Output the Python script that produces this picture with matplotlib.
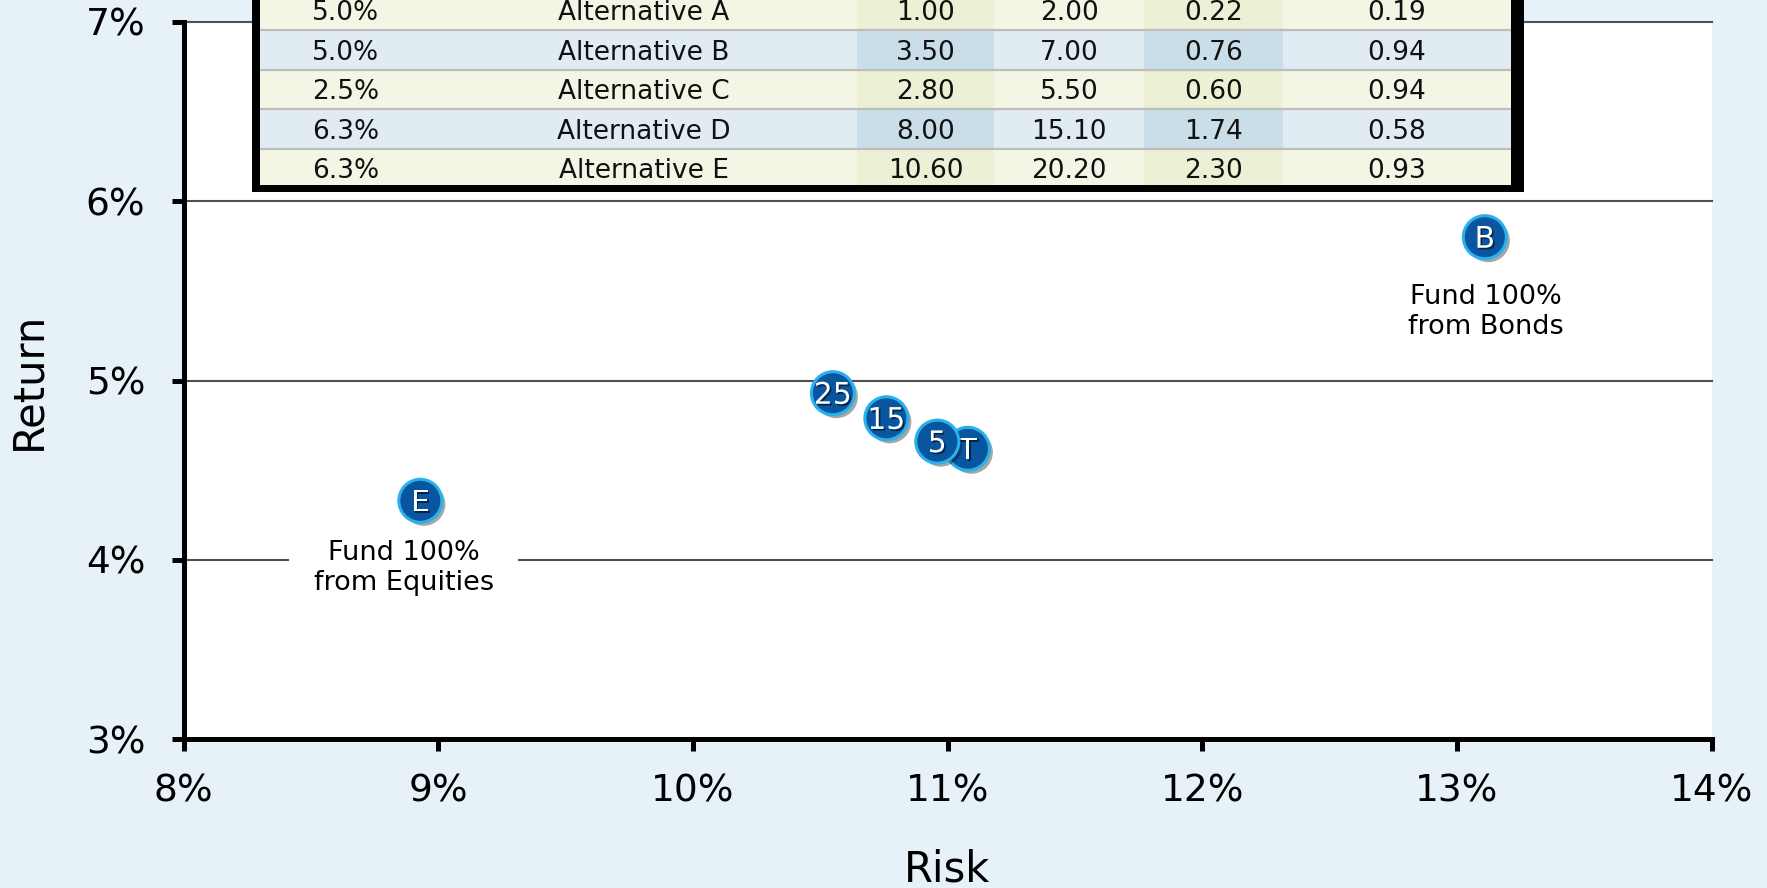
import matplotlib
matplotlib.use("Agg")
import matplotlib.pyplot as plt
from matplotlib.patches import Rectangle
from matplotlib import patheffects as pe
from matplotlib.ticker import FuncFormatter

# Portfolio points: risk (%) vs. return (%)
point_labels = ["T", "5", "15", "25", "E", "B"]
point_risk = [11.08, 10.96, 10.76, 10.55, 8.93, 13.11]
point_return = [4.62, 4.66, 4.79, 4.93, 4.33, 5.80]

# Notes under the two extreme funds
note_text = {"E": "Fund 100%\nfrom Equities", "B": "Fund 100%\nfrom Bonds"}
note_offset = {"E": (-11.9, -48.4), "B": (0.7, -54.0)}

x_ticks = [8, 9, 10, 11, 12, 13, 14]
y_ticks = [3, 4, 5, 6, 7]

# Alternatives table
tbl_rate = ["5.0%", "5.0%", "2.5%", "6.3%", "6.3%"]
tbl_name = ["Alternative A", "Alternative B", "Alternative C",
            "Alternative D", "Alternative E"]
tbl_col3 = [1.00, 3.50, 2.80, 8.00, 10.60]
tbl_col4 = [2.00, 7.00, 5.50, 15.10, 20.20]
tbl_col5 = [0.22, 0.76, 0.60, 1.74, 2.30]
tbl_col6 = [0.19, 0.94, 0.94, 0.58, 0.93]

BG = "#E6F1F8"
FACE = "#0A55A0"
EDGE = "#2BB1EA"

W, H = 1767, 888
fig = plt.figure(figsize=(W / 100, H / 100), dpi=100, facecolor=BG)

# ---- main scatter axes ----
ax = fig.add_axes([183.5 / W, 1 - 739.3 / H, 1528 / W, 717.3 / H], zorder=1)
ax.set_facecolor("white")
ax.set_xlim(8, 14)
ax.set_ylim(3, 7)
for s in ("top", "right"):
    ax.spines[s].set_visible(False)
for s in ("left", "bottom"):
    ax.spines[s].set_linewidth(3.6)
    ax.spines[s].set_color("black")
ax.set_xticks(x_ticks)
ax.set_yticks(y_ticks)
pct = FuncFormatter(lambda v, _: f"{v:.0f}%")
ax.xaxis.set_major_formatter(pct)
ax.yaxis.set_major_formatter(pct)
ax.tick_params(axis="both", direction="out", length=8.5, width=3.6,
               labelsize=27, color="black", labelcolor="black")
ax.tick_params(axis="x", pad=16)
ax.tick_params(axis="y", pad=19)
ax.yaxis.grid(True, color="#505050", linewidth=1.5)
ax.set_axisbelow(True)
for gl in ax.get_ygridlines():
    gl.set_clip_on(False)

ax.set_xlabel("Risk", fontsize=30)
ax.xaxis.set_label_coords(0.5, -0.181)
ax.xaxis.label.set_va("center")
ax.set_ylabel("Return", fontsize=30)
ax.yaxis.set_label_coords(-0.1012, 0.5)
ax.yaxis.label.set_va("center")

marker_fx = [pe.SimplePatchShadow(offset=(2.5, -2.5), shadow_rgbFace="black", alpha=0.35),
             pe.Normal()]
text_fx = [pe.withSimplePatchShadow(offset=(1.2, -1.2), shadow_rgbFace="#00203f", alpha=0.9)]

for i, (lab, rx, ry) in enumerate(zip(point_labels, point_risk, point_return)):
    z = 5 + 2 * i
    ax.scatter([rx], [ry], s=31 ** 2, c=FACE, edgecolors=EDGE, linewidths=2.2,
               zorder=z, path_effects=marker_fx, clip_on=False)
    ax.annotate(lab, (rx, ry), xytext=(0, -1.5), textcoords="offset points",
                ha="center", va="center", color="white", fontsize=21.5,
                zorder=z + 1, path_effects=text_fx)
    if lab in note_text:
        ax.annotate(note_text[lab], (rx, ry), xytext=note_offset[lab],
                    textcoords="offset points", ha="center", va="center",
                    fontsize=19.5, linespacing=1.2, zorder=4,
                    bbox=dict(boxstyle="square,pad=0.9", fc="white", ec="none"))

# ---- table overlay ----
col_px = [260, 431, 857, 994, 1144, 1283, 1511]
row_top, row_h = -9.0, 39.5
tbl_bottom = 185.0

fig.add_artist(Rectangle((252 / W, 1 - 192 / H), 1272 / W, 260 / H,
                         transform=fig.transFigure, fc="black", ec="none", zorder=2))

ax_t = fig.add_axes([col_px[0] / W, 1 - tbl_bottom / H,
                     (col_px[-1] - col_px[0]) / W, (tbl_bottom - row_top) / H], zorder=3)
ax_t.set_xlim(col_px[0], col_px[-1])
ax_t.set_ylim(tbl_bottom, row_top)
ax_t.axis("off")

row_base = ["#F3F6E4", "#E0ECF2"]
row_hi = ["#ECF0D5", "#C9DEE8"]
hi_cols = (2, 4)

for i in range(len(tbl_name)):
    y0 = row_top + i * row_h
    for j in range(6):
        fc = row_hi[i % 2] if j in hi_cols else row_base[i % 2]
        ax_t.add_patch(Rectangle((col_px[j], y0), col_px[j + 1] - col_px[j], row_h,
                                 fc=fc, ec="none"))
    if i < len(tbl_name) - 1:
        ax_t.plot([col_px[0], col_px[-1]], [y0 + row_h, y0 + row_h],
                  color="#BDBDBD", lw=1.6)
    cells = [tbl_rate[i], tbl_name[i], f"{tbl_col3[i]:.2f}", f"{tbl_col4[i]:.2f}",
             f"{tbl_col5[i]:.2f}", f"{tbl_col6[i]:.2f}"]
    for j, txt in enumerate(cells):
        ax_t.text((col_px[j] + col_px[j + 1]) / 2, y0 + row_h / 2 + 2.5, txt,
                  ha="center", va="center", fontsize=19, color="#111111")

fig.savefig("out.png", dpi=100, facecolor=BG)
